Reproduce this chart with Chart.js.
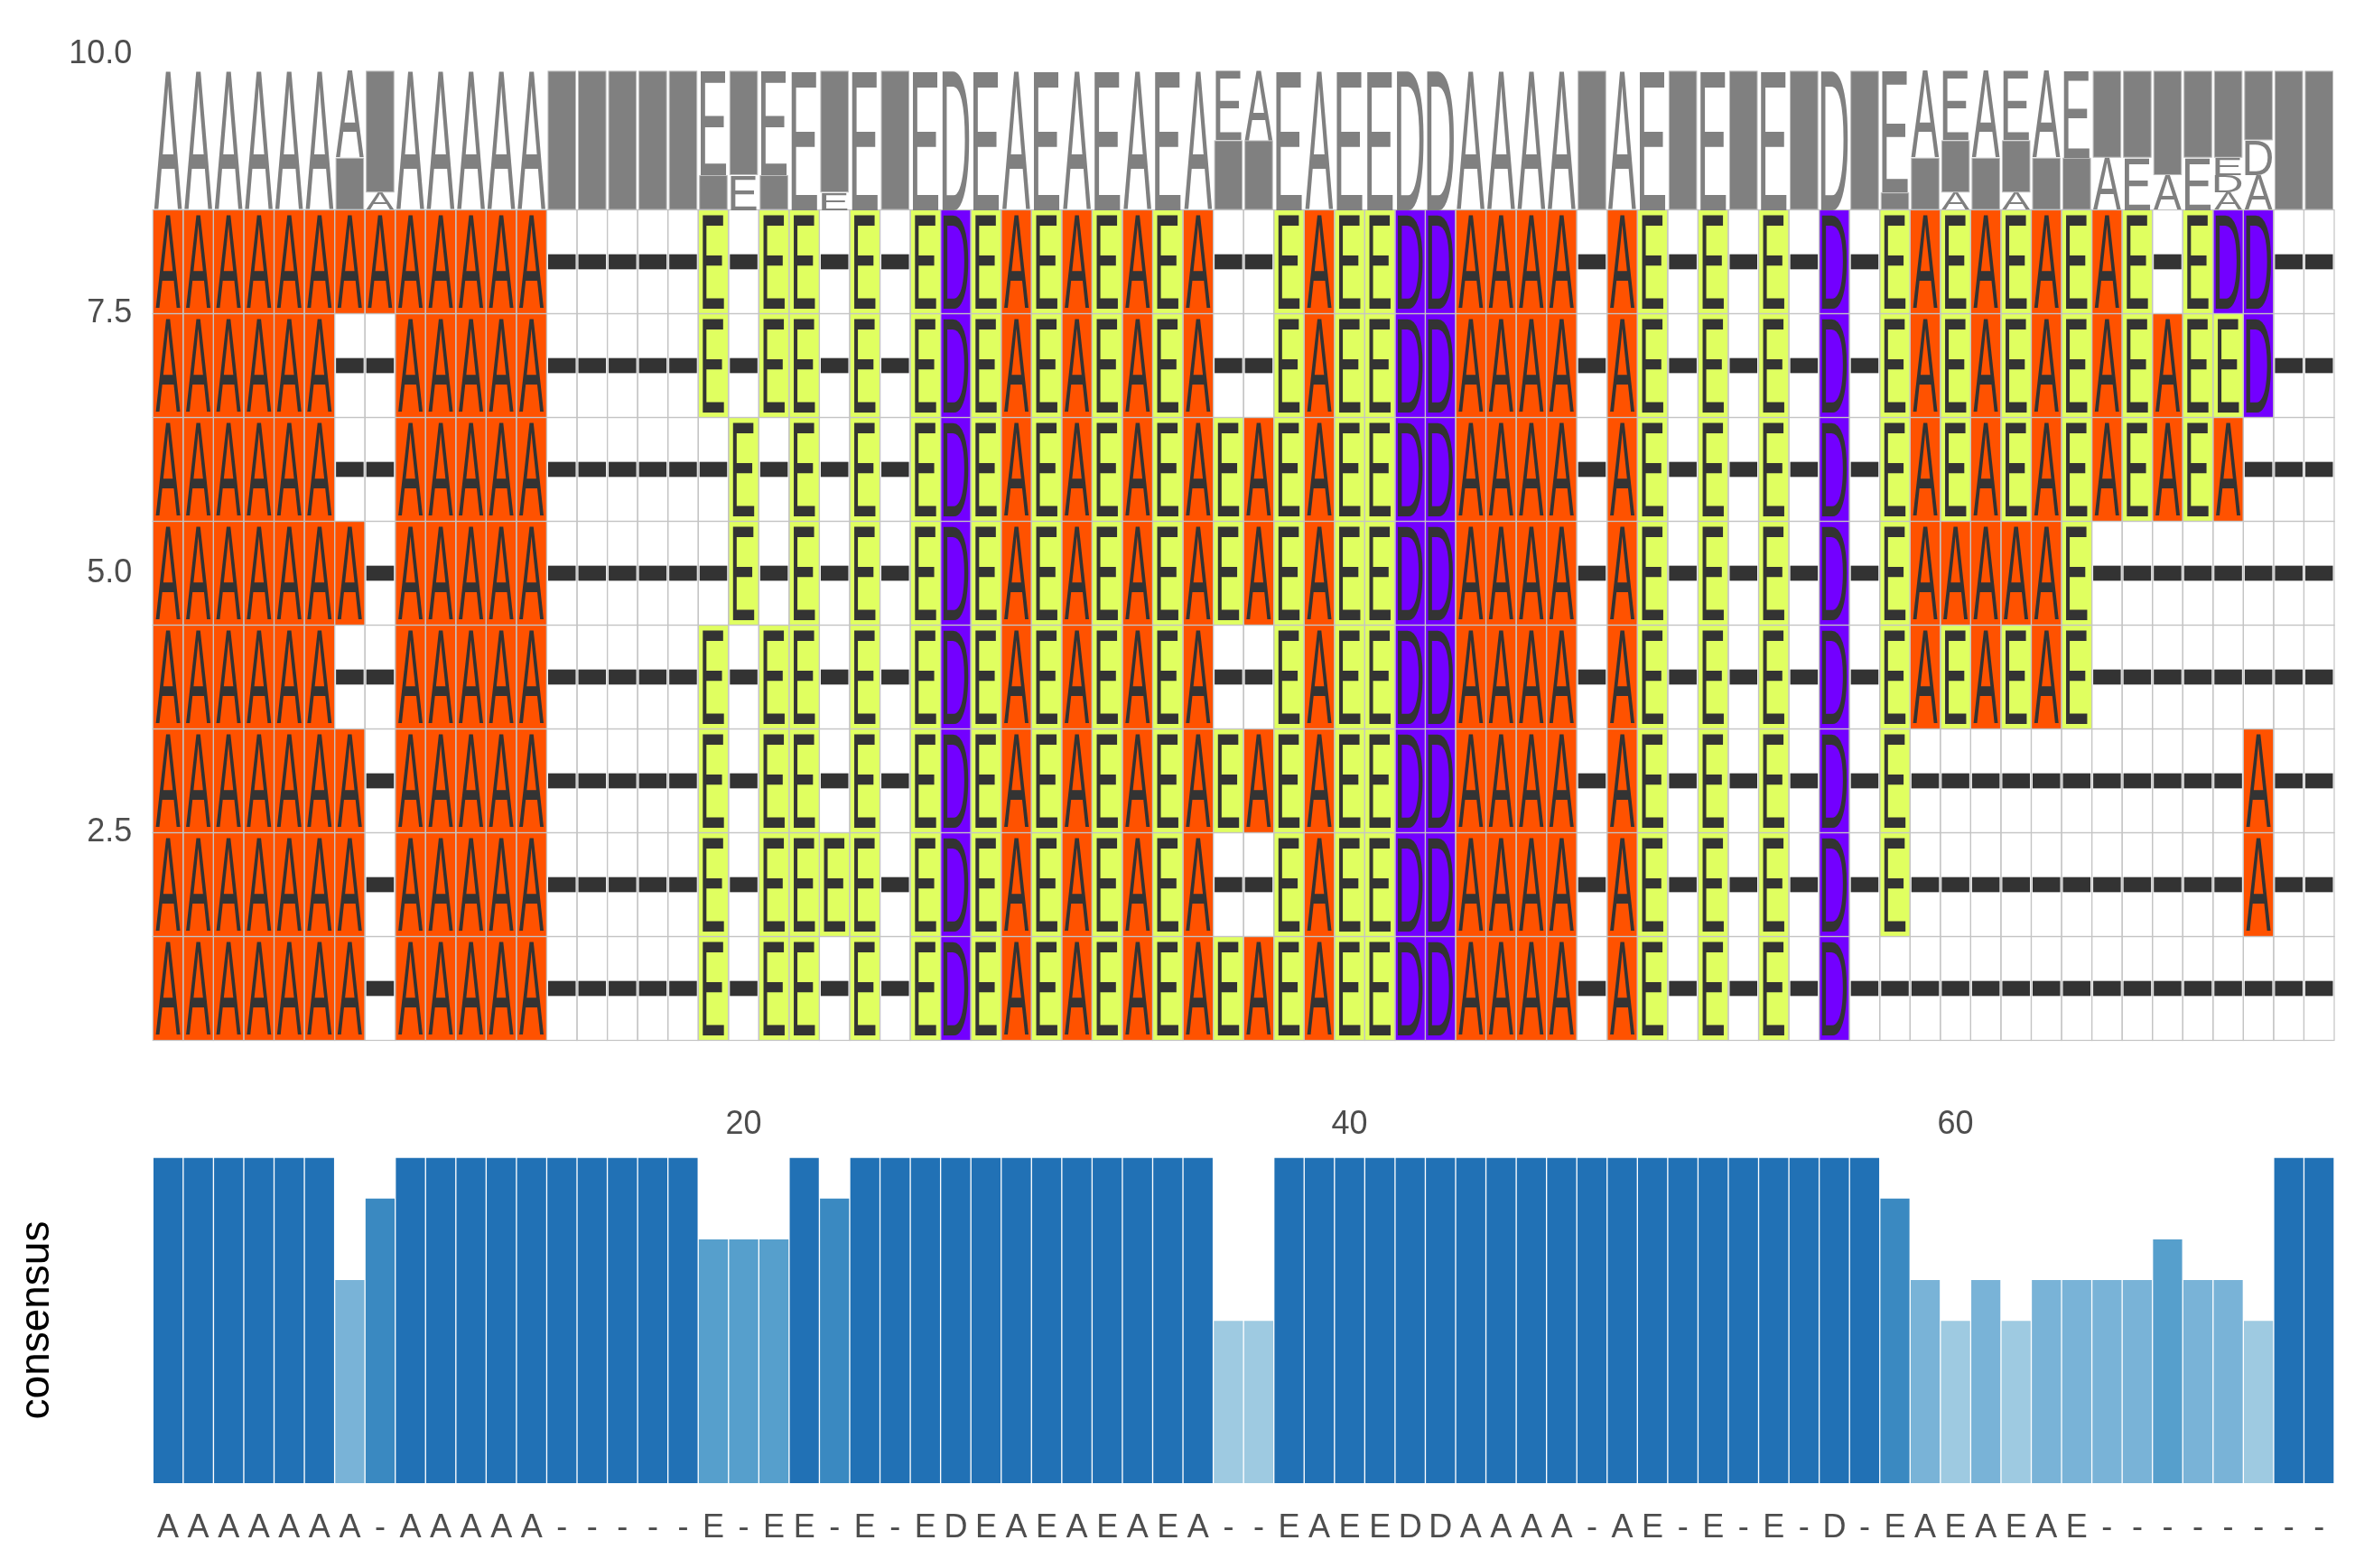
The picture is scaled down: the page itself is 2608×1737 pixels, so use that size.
<!DOCTYPE html>
<html><head><meta charset="utf-8">
<script src="https://cdn.jsdelivr.net/npm/chart.js@4.4.1/dist/chart.umd.min.js"></script>
<style>
html,body{margin:0;padding:0;background:#fff;overflow:hidden;}
#wrap{position:relative;width:2608px;height:1737px;background:#fff;overflow:hidden;}
#box2{position:absolute;left:0;top:1160px;width:2608px;height:577px;}
#box1{position:absolute;left:0;top:0;width:2608px;height:1200px;}
</style></head><body>
<div id="wrap">
<div id="box2"><canvas id="c2" width="2608" height="577" style="width:2608px;height:577px"></canvas></div>
<div id="box1"><canvas id="c1" width="2608" height="1200" style="width:2608px;height:1200px"></canvas></div>
</div>
<script>
// ---- data (top row first, i.e. y = 8 down to y = 1) ----
const sequences = [
  "AAAAAAAAAAAAA" + "-----" + "E-EE-E-EDEAEAEAEA" + "--" + "EAEEDDAAAA" + "-AE-E-E-D-" + "EAEAEAEAE" + "-EDD--",
  "AAAAAA--AAAAA" + "-----" + "E-EE-E-EDEAEAEAEA" + "--" + "EAEEDDAAAA" + "-AE-E-E-D-" + "EAEAEAEAEAEED--",
  "AAAAAA--AAAAA" + "-----" + "-E-E-E-EDEAEAEAEA" + "EA" + "EAEEDDAAAA" + "-AE-E-E-D-" + "EAEAEAEAEAEA---",
  "AAAAAAA-AAAAA" + "-----" + "-E-E-E-EDEAEAEAEA" + "EA" + "EAEEDDAAAA" + "-AE-E-E-D-" + "EAAAAAE--------",
  "AAAAAA--AAAAA" + "-----" + "E-EE-E-EDEAEAEAEA" + "--" + "EAEEDDAAAA" + "-AE-E-E-D-" + "EAEAEAE--------",
  "AAAAAAA-AAAAA" + "-----" + "E-EE-E-EDEAEAEAEA" + "EA" + "EAEEDDAAAA" + "-AE-E-E-D-" + "E-----------A--",
  "AAAAAAA-AAAAA" + "-----" + "E-EEEE-EDEAEAEAEA" + "--" + "EAEEDDAAAA" + "-AE-E-E-D-" + "E-----------A--",
  "AAAAAAA-AAAAA" + "-----" + "E-EE-E-EDEAEAEAEA" + "EA" + "EAEEDDAAAA" + "-AE-E-E-D-" + "---------------"
];
const rowLevels = [8, 7, 6, 5, 4, 3, 2, 1];
const yTickValues = [2.5, 5, 7.5, 10];
const xTickValues = [20, 40, 60];
const consensusLetters = ("AAAAAAA-AAAAA-----E-EE-E-EDEAEAEAEA--EAEEDDAAAA-AE-E-E-D-EAEAEAE--------").split("");
const consensusHeights = [
  1,1,1,1,1,1,0.625,0.875,1,1,
  1,1,1,1,1,1,1,1,0.75,0.75,
  0.75,1,0.875,1,1,1,1,1,1,1,
  1,1,1,1,1,0.5,0.5,1,1,1,
  1,1,1,1,1,1,1,1,1,1,
  1,1,1,1,1,1,1,0.875,0.625,0.5,
  0.625,0.5,0.625,0.625,0.625,0.625,0.75,0.625,0.625,0.5,
  1,1
];

// ---- styles ----
const residueColors = {A:'#ff5200', E:'#e0ff60', D:'#7300ff', '-':'#ffffff'};
const barLevels = [1, 0.875, 0.75, 0.625, 0.5];
const barColors = ['#2171b5', '#3a89c1', '#569fcc', '#79b3d7', '#9ecae1'];
const FONT = '"Liberation Sans", Arial, Helvetica, sans-serif';
const matrixWidthFrac = {A:0.81, E:0.70, D:0.82};
const logoWidthFrac = {A:0.92, E:0.84, D:0.88};
const logoBase = 8.5, logoTop = 9.84;

function colorFor(v){
  let best = 0;
  barLevels.forEach((l,i)=>{ if (Math.abs(l-v) < Math.abs(barLevels[best]-v)) best = i; });
  return barColors[best];
}

function drawGlyph(ctx, ch, bx, by, bw, bh, color){
  ctx.save();
  ctx.font = '200px ' + FONT;
  ctx.textAlign = 'left'; ctx.textBaseline = 'alphabetic';
  const m = ctx.measureText(ch);
  const iw = m.actualBoundingBoxLeft + m.actualBoundingBoxRight;
  const ih = m.actualBoundingBoxAscent + m.actualBoundingBoxDescent;
  ctx.translate(bx, by);
  ctx.scale(bw/iw, bh/ih);
  ctx.fillStyle = color;
  ctx.fillText(ch, m.actualBoundingBoxLeft, m.actualBoundingBoxAscent);
  ctx.restore();
}

const cells = [];
sequences.forEach((s, r) => {
  s.split('').forEach((ch, i) => cells.push({x: i+1, y: rowLevels[r], ch}));
});

const msaPlugin = {
  id: 'msa',
  afterDatasetsDraw(chart){
    const ctx = chart.ctx, xs = chart.scales.x, ys = chart.scales.y;
    const data = chart.data.datasets[0].data;
    ctx.save();
    for (const d of data){
      const x0 = xs.getPixelForValue(d.x-0.5), x1 = xs.getPixelForValue(d.x+0.5);
      const yt = ys.getPixelForValue(d.y+0.5), yb = ys.getPixelForValue(d.y-0.5);
      ctx.fillStyle = residueColors[d.ch];
      ctx.fillRect(x0, yt, x1-x0, yb-yt);
    }
    ctx.strokeStyle = '#c4c4c4'; ctx.lineWidth = 1.2;
    for (const d of data){
      const x0 = xs.getPixelForValue(d.x-0.5), x1 = xs.getPixelForValue(d.x+0.5);
      const yt = ys.getPixelForValue(d.y+0.5), yb = ys.getPixelForValue(d.y-0.5);
      ctx.strokeRect(x0, yt, x1-x0, yb-yt);
    }
    for (const d of data){
      const x0 = xs.getPixelForValue(d.x-0.5), x1 = xs.getPixelForValue(d.x+0.5);
      const yt = ys.getPixelForValue(d.y+0.5), yb = ys.getPixelForValue(d.y-0.5);
      const w = x1-x0, h = yb-yt;
      if (d.ch === '-'){
        const dh = h*0.145;
        ctx.fillStyle = '#333333';
        ctx.fillRect(x0+1.5, yt + (h-dh)/2, w-3, dh);
      } else {
        const gw = w*matrixWidthFrac[d.ch], gh = h*0.9;
        drawGlyph(ctx, d.ch, x0+(w-gw)/2, yt+(h-gh)/2, gw, gh, '#333333');
      }
    }
    const nSeq = sequences.length, nCol = sequences[0].length;
    for (let c = 1; c <= nCol; c++){
      const counts = {};
      sequences.forEach(s => { const ch = s[c-1]; counts[ch] = (counts[ch]||0)+1; });
      const items = Object.entries(counts).sort((a,b)=> a[1]-b[1] || (a[0] < b[0] ? -1 : 1));
      const x0 = xs.getPixelForValue(c-0.5), x1 = xs.getPixelForValue(c+0.5), w = x1-x0;
      let base = logoBase;
      for (const [ch, n] of items){
        const hv = n/nSeq*(logoTop-logoBase);
        const yb = ys.getPixelForValue(base), yt = ys.getPixelForValue(base+hv);
        if (ch === '-'){
          ctx.fillStyle = '#808080';
          ctx.fillRect(x0+1.5, yt+0.5, w-3, yb-yt-1);
          ctx.strokeStyle = '#bdbdbd'; ctx.lineWidth = 1;
          ctx.strokeRect(x0+1.5, yt+0.5, w-3, yb-yt-1);
        } else {
          const gw = w*logoWidthFrac[ch];
          drawGlyph(ctx, ch, x0+(w-gw)/2, yt, gw, yb-yt, '#808080');
        }
        base += hv;
      }
    }
    ctx.restore();
  }
};

const tickFont = {family: FONT, size: 36};

function fitScales(chart, pad, xr, yr, target){
  for (let i = 0; i < 8; i++){
    const xs = chart.scales.x, ys = chart.scales.y;
    const top = ys.getPixelForValue(yr[1]), bottom = ys.getPixelForValue(yr[0]);
    const left = xs.getPixelForValue(xr[0]), right = xs.getPixelForValue(xr[1]);
    const dt = target.top - top, db = bottom - target.bottom;
    const dl = target.left - left, dr = right - target.right;
    if (Math.abs(dt)+Math.abs(db)+Math.abs(dl)+Math.abs(dr) < 0.3) break;
    pad.top += dt; pad.bottom += db; pad.left += dl; pad.right += dr;
    chart.options.layout.padding = {top: pad.top, bottom: pad.bottom, left: pad.left, right: pad.right};
    chart.update('none');
  }
}

const pad1 = {left: 0, right: 23, top: 60, bottom: 47.5};
const chart1 = new Chart(document.getElementById('c1'), {
  type: 'scatter',
  data: {datasets: [{data: cells, pointRadius: 0, pointHoverRadius: 0, showLine: false}]},
  options: {
    responsive: false, maintainAspectRatio: false, animation: false, devicePixelRatio: 1,
    events: [],
    plugins: {legend: {display: false}, tooltip: {enabled: false}},
    layout: {padding: {...pad1}},
    scales: {
      x: {type: 'linear', min: 0.5, max: 72.5, display: false},
      y: {
        type: 'linear', min: 0.5, max: 10,
        grid: {display: false, drawTicks: false}, border: {display: false},
        ticks: {font: tickFont, color: '#4d4d4d', padding: 23, callback: v => Number(v).toFixed(1)},
        afterBuildTicks: s => { s.ticks = yTickValues.map(v => ({value: v})); },
        afterFit: s => { s.width = 169.3; }
      }
    }
  },
  plugins: [msaPlugin]
});
fitScales(chart1, pad1, [0.5, 72.5], [0.5, 10], {top: 60, bottom: 1152.5, left: 169.3, right: 2585});

const pad2 = {left: 0, right: 23, top: 0, bottom: 0};
const chart2 = new Chart(document.getElementById('c2'), {
  type: 'bar',
  data: {datasets: [{
    data: consensusHeights.map((v,i) => ({x: i+1, y: v})),
    backgroundColor: consensusHeights.map(colorFor),
    borderColor: 'rgba(255,255,255,0.16)', borderWidth: 1,
    barPercentage: 1, categoryPercentage: 1,
    xAxisID: 'x', yAxisID: 'y'
  }]},
  options: {
    responsive: false, maintainAspectRatio: false, animation: false, devicePixelRatio: 1,
    events: [],
    plugins: {legend: {display: false}, tooltip: {enabled: false}},
    layout: {padding: {...pad2}},
    scales: {
      x: {
        type: 'linear', position: 'bottom', min: 0.5, max: 72.5, offset: false,
        grid: {display: false, drawTicks: false}, border: {display: false},
        ticks: {autoSkip: false, maxRotation: 0, minRotation: 0, font: {family: FONT, size: 36}, color: '#4d4d4d', padding: 28,
                callback: v => consensusLetters[Math.round(v)-1]},
        afterBuildTicks: s => { s.ticks = consensusLetters.map((_, i) => ({value: i+1})); },
        afterFit: s => { s.height = 94; }
      },
      xTop: {
        type: 'linear', position: 'top', min: 0.5, max: 72.5, offset: false,
        grid: {display: false, drawTicks: false}, border: {display: false},
        ticks: {autoSkip: false, maxRotation: 0, font: tickFont, color: '#4d4d4d', padding: 14},
        afterBuildTicks: s => { s.ticks = xTickValues.map(v => ({value: v})); },
        afterFit: s => { s.height = 122; }
      },
      y: {
        type: 'linear', min: 0, max: 1,
        grid: {display: false, drawTicks: false}, border: {display: false},
        ticks: {display: false},
        title: {display: true, text: 'consensus', color: '#000000', font: {family: FONT, size: 46}, padding: {top: 14, bottom: 0}},
        afterFit: s => { s.width = 169.3; }
      }
    }
  }
});
fitScales(chart2, pad2, [0.5, 72.5], [0, 1], {top: 122, bottom: 483, left: 169.3, right: 2585});
</script>
</body></html>
